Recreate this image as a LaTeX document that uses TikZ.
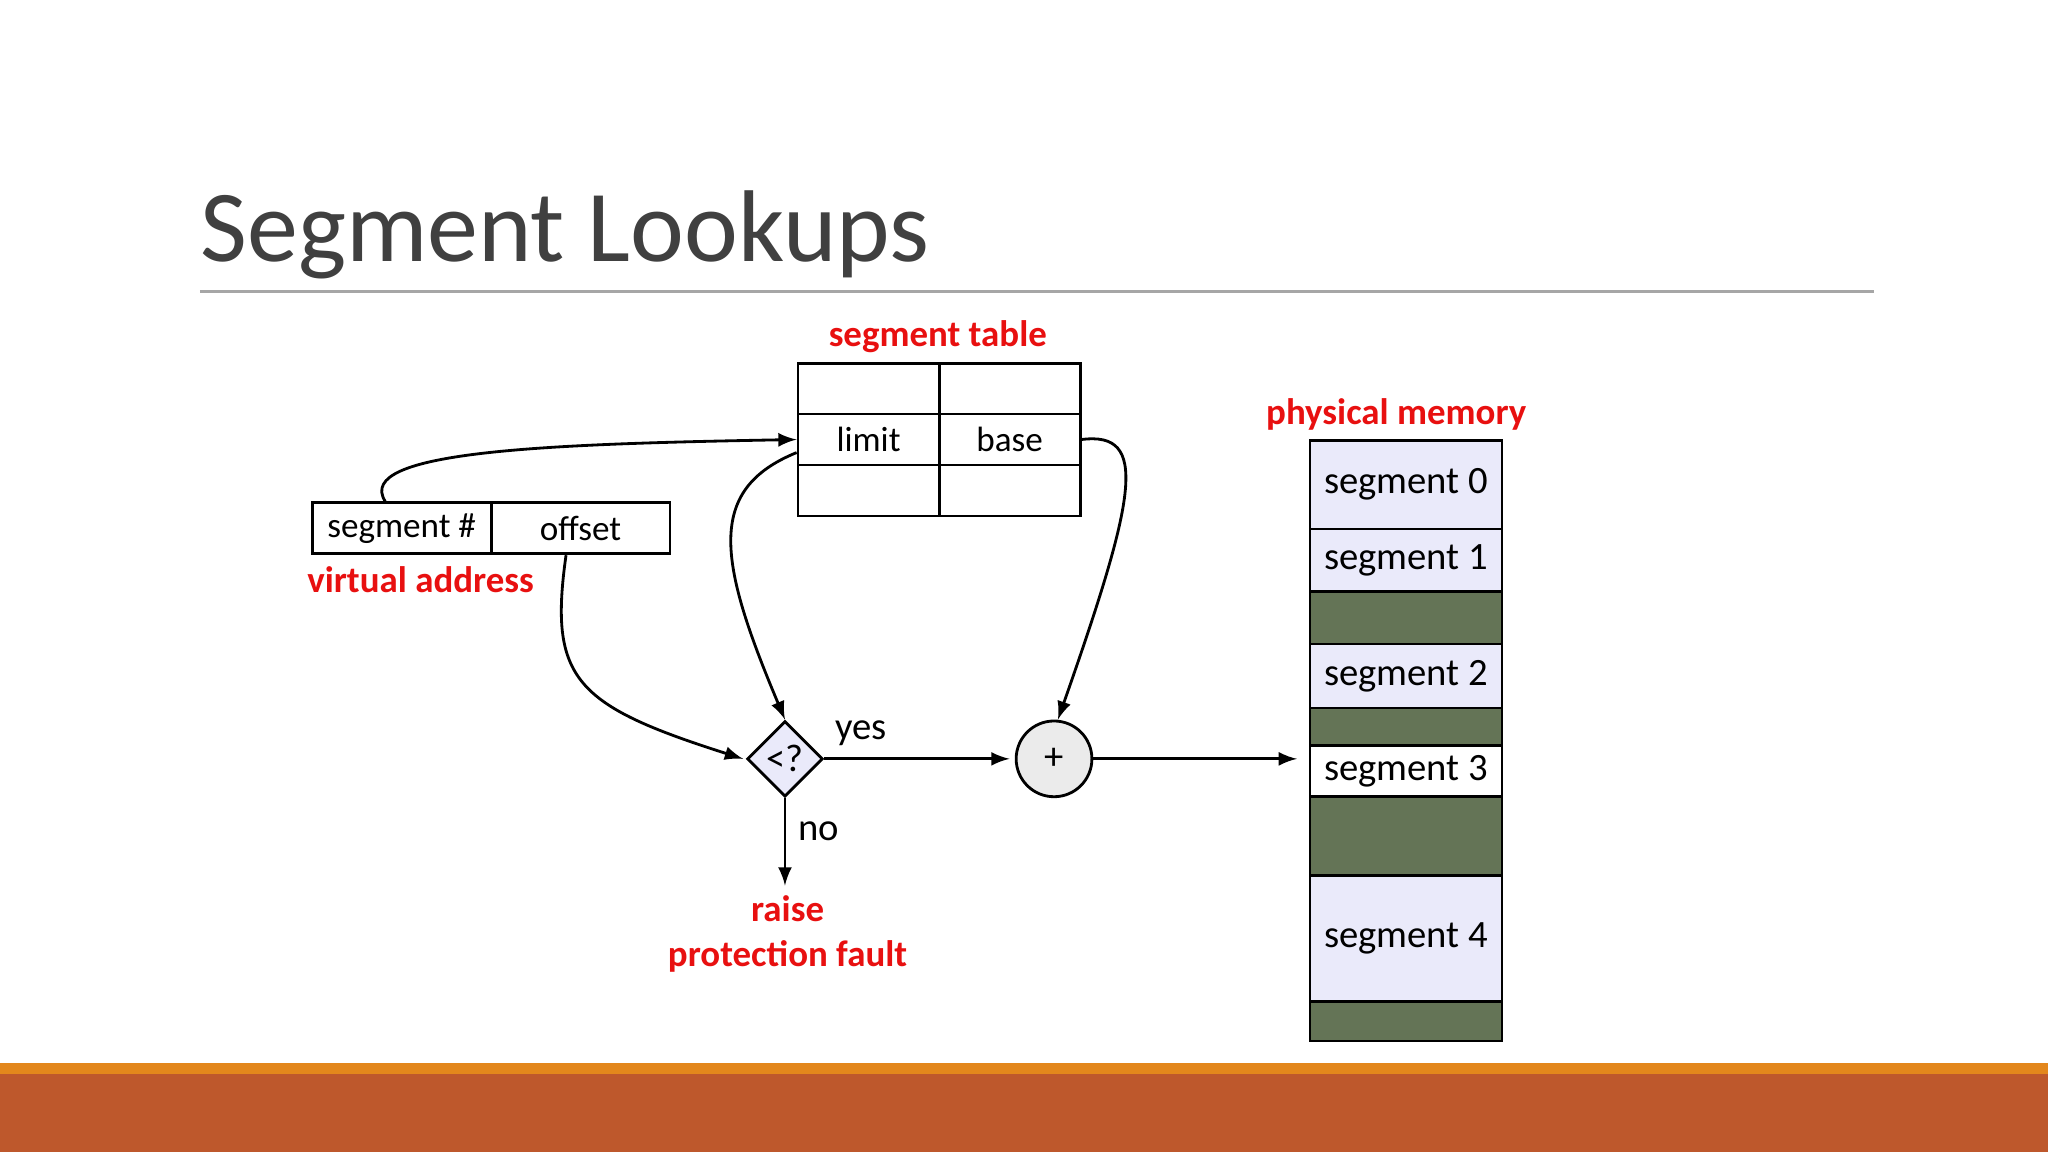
\documentclass[tikz,border=0pt]{standalone}
\usepackage{fontspec}
\setmainfont{Carlito}
\usetikzlibrary{arrows,shapes,calc}
\definecolor{lav}{HTML}{EAEAFA}
\definecolor{hole}{HTML}{647456}
\definecolor{alert}{HTML}{E81010}
\definecolor{bar}{HTML}{BE582C}
\definecolor{strip}{HTML}{E3871C}
\tikzset{
  cell/.style={rectangle, draw=black, thick, inner sep=0pt, minimum width=108\unitpx, minimum height=39\unitpx, font=\fontsize{10pt}{12pt}\selectfont},
  mem/.style={rectangle, draw=black, thick, inner sep=0pt, minimum width=147\unitpx, font=\fontsize{11pt}{13pt}\selectfont},
  note/.style={text=alert, font=\bfseries\fontsize{10.5pt}{13pt}\selectfont, align=center},
  lbl/.style={font=\fontsize{11pt}{13pt}\selectfont},
  arr/.style={->, >=latex, thick}
}
\newcommand{\unitpx}{*0.013061cm}
\begin{document}
\begin{tikzpicture}[x=0.013061cm, y=-0.013061cm]
  \useasboundingbox (0,0) rectangle (1568,882);
  \fill[bar] (0,822) rectangle (1568,882);
  \fill[strip] (0,814) rectangle (1568,822);
  \node[anchor=base west, text=black!75, font=\fontsize{29pt}{34pt}\selectfont, inner sep=0pt] (title) at (153,200) {Segment Lookups};
  \draw[black!35, thick] (153,223) -- (1435,223);

  % segment table
  \node[cell] (t00) at (665,297.5) {};
  \node[cell] (t01) at (773,297.5) {};
  \node[cell] (limit) at (665,336.5) {limit};
  \node[cell] (base) at (773,336.5) {base};
  \node[cell] (t20) at (665,375.5) {};
  \node[cell] (t21) at (773,375.5) {};
  \node[note] (tlabel) at (718,258) {segment table};

  % virtual address
  \node[cell, minimum width=137\unitpx] (segno) at (307.5,404.5) {segment \#};
  \node[cell, minimum width=137\unitpx] (offset) at (444.5,404.5) {offset};
  \node[note] (vlabel) at (322,444) {virtual address};

  % check and add
  \node[diamond, draw=black, thick, fill=lav, minimum size=58\unitpx, inner sep=0pt, lbl] (cmp) at (601,581) {<?};
  \node[circle, draw=black, thick, fill=black!8, minimum size=58\unitpx, inner sep=0pt, lbl] (add) at (807,581) {+};
  \coordinate (fault) at (601,678);
  \coordinate (out) at (993,581);
  \node[note] (flabel) at (603,715) {raise\\protection fault};

  % physical memory
  \node[note] (plabel) at (1069,317) {physical memory};
  \foreach \name/\top/\bot/\col/\txt in {s0/337/405/lav/segment 0, s1/405/453/lav/segment 1, h0/453/493/hole/, s2/493/542/lav/segment 2, h1/542/571/hole/, s3/571/610/white/segment 3, h2/610/670/hole/, s4/670/767/lav/segment 4, h3/767/797/hole/}
    \node[mem, fill=\col, minimum height={(\bot-\top)\unitpx}] (\name) at (1076.5,{(\top+\bot)/2}) {\txt};

  \draw[arr] ($(segno.north west)!0.41!(segno.north east)$) .. controls (270,345) and (420,340) .. (limit.west);
  \draw[arr] ($(limit.west)+(0,10)$) .. controls (540,375) and (550,430) .. (cmp.north);
  \draw[arr] (base.east) .. controls (880,330) and (870,380) .. ($(add.north)+(3,0)$);
  \draw[arr] ($(offset.south west)!0.42!(offset.south east)$) .. controls (420,520) and (440,540) .. ($(cmp.west)+(-2,0)$);
  \draw[arr] (cmp.east) -- node[above, lbl, pos=0.2] {yes} ($(add.west)+(-4,0)$);
  \draw[arr] (cmp.south) -- node[right, lbl, pos=0.38] {no} (fault);
  \draw[arr] (add.east) -- (out);
\end{tikzpicture}
\end{document}
